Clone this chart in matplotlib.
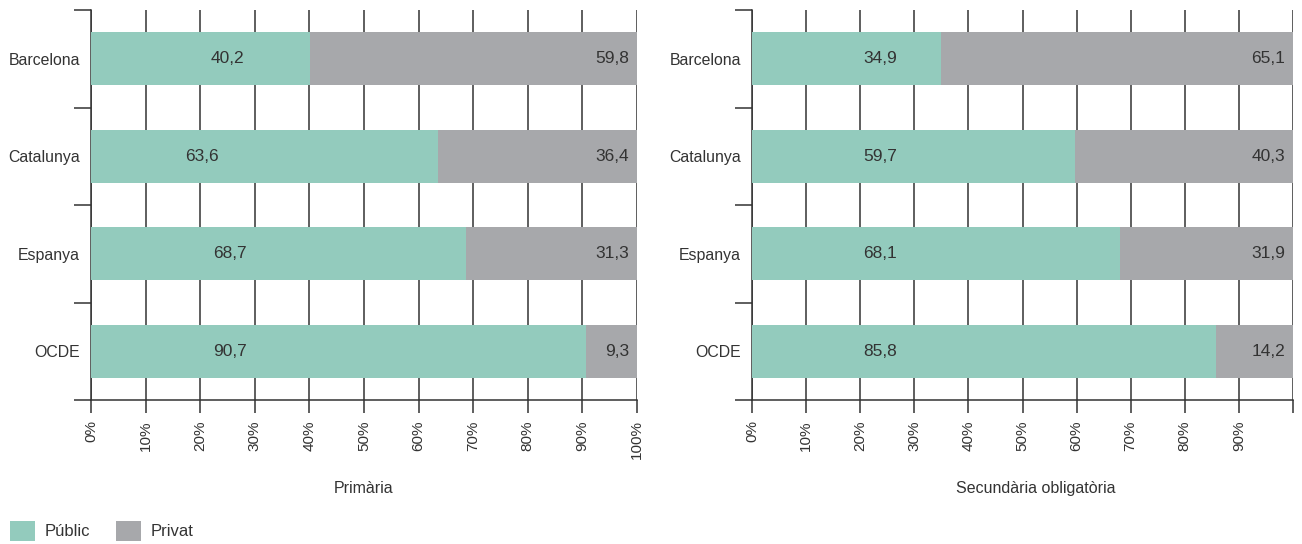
from matplotlib import pyplot as plt
from matplotlib.patches import Patch
import numpy as np

# Data
categories = ['Barcelona', 'Catalunya', 'Espanya', 'OCDE']
primaria_public = [40.2, 63.6, 68.7, 90.7]
primaria_privat = [59.8, 36.4, 31.3, 9.3]
secundaria_public = [34.9, 59.7, 68.1, 85.8]
secundaria_privat = [65.1, 40.3, 31.9, 14.2]
panel_titles = ['Primària', 'Secundària obligatòria']
legend_labels = ['Públic', 'Privat']

# Where the public labels sit inside the bar (percent)
primaria_label_x = [25, 20.3, 25.5, 25.5]
secundaria_label_x = [23.7, 23.7, 23.7, 23.7]

green = '#93cbbd'
grey = '#a7a8ab'
dark = '#333333'

plt.rcParams['font.family'] = 'Liberation Sans'
plt.rcParams['text.color'] = dark

fig = plt.figure(figsize=(13.02, 5.44), dpi=100)
ax1 = fig.add_axes([91 / 1302, 1 - 400 / 544, 546 / 1302, 390 / 544])
ax2 = fig.add_axes([752 / 1302, 1 - 400 / 544, 541 / 1302, 390 / 544])

panels = [
    (ax1, primaria_public, primaria_privat, primaria_label_x, panel_titles[0], True, 0.5),
    (ax2, secundaria_public, secundaria_privat, secundaria_label_x, panel_titles[1], False, 0.525),
]

for ax, pub, priv, lab_x, title, show100, title_x in panels:
    y = np.arange(len(categories))
    ax.barh(y, pub, height=0.54, color=green, zorder=3)
    ax.barh(y, priv, left=pub, height=0.54, color=grey, zorder=3)

    for i in range(len(categories)):
        ax.text(lab_x[i], y[i], f'{pub[i]:.1f}'.replace('.', ','),
                ha='center', va='center', fontsize=12.5, color=dark, zorder=4)
        ax.text(98.5, y[i], f'{priv[i]:.1f}'.replace('.', ','),
                ha='right', va='center', fontsize=12.5, color=dark, zorder=4)

    ax.set_xlim(0, 100)
    ax.set_ylim(len(categories) - 0.5, -0.5)

    xt = np.arange(0, 101, 10)
    ax.set_xticks(xt)
    labels = [f'{v}%' for v in xt]
    if not show100:
        labels[-1] = ''
    ax.set_xticklabels(labels, rotation=90, fontsize=11, color=dark)
    ax.tick_params(axis='x', direction='out', length=9.5, width=1.1,
                   color=dark, pad=5)
    ax.grid(axis='x', color=dark, linewidth=1.1, zorder=0)
    ax.set_axisbelow(True)

    ax.set_yticks(y)
    ax.set_yticklabels(categories, fontsize=11.4, color=dark)
    ax.set_yticks(np.arange(-0.5, len(categories), 1), minor=True)
    ax.tick_params(axis='y', which='major', length=0, pad=8)
    ax.tick_params(axis='y', which='minor', direction='out', length=12,
                   width=1.1, color=dark)

    for s in ['top', 'right']:
        ax.spines[s].set_visible(False)
    for s in ['left', 'bottom']:
        ax.spines[s].set_color(dark)
        ax.spines[s].set_linewidth(1.1)

    # Panel title under the tick labels
    ax.text(title_x, -0.226, title, transform=ax.transAxes, ha='center',
            va='center', fontsize=11.5, color=dark)

handles = [Patch(facecolor=green, edgecolor='none'),
           Patch(facecolor=grey, edgecolor='none')]
fig.legend(handles, legend_labels, loc='lower left', bbox_to_anchor=(10 / 1302, 3 / 544),
           ncol=2, frameon=False, prop={'size': 12},
           handlelength=1.5, handleheight=1.5, handletextpad=0.55,
           columnspacing=1.6, borderpad=0, borderaxespad=0)

plt.savefig('out.png', dpi=100)
